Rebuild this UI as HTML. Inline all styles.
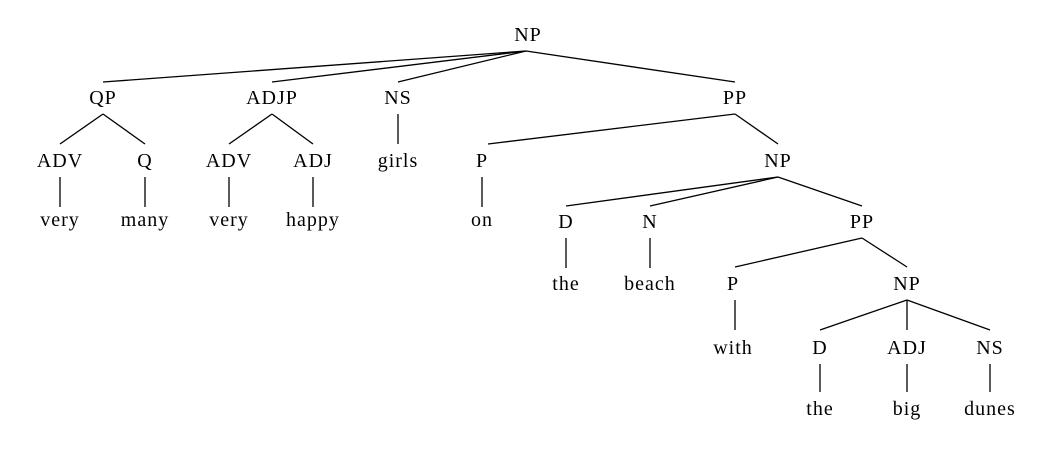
<!DOCTYPE html>
<html><head><meta charset="utf-8"><style>
html,body{margin:0;padding:0;background:#fff;width:1048px;height:456px;overflow:hidden}
svg text{font-family:"Liberation Serif",serif;font-size:20px;letter-spacing:1px;fill:#000;text-anchor:middle}
line{stroke:#000;stroke-width:1.3}
</style></head><body>
<svg width="1048" height="456" viewBox="0 0 1048 456">
<g>
<text x="528" y="41">NP</text>
<text x="103" y="104">QP</text><text x="272" y="104">ADJP</text><text x="398" y="104">NS</text><text x="735" y="104">PP</text>
<text x="60" y="167">ADV</text><text x="145" y="167">Q</text><text x="229" y="167">ADV</text><text x="313" y="167">ADJ</text><text x="398" y="167">girls</text><text x="482" y="167">P</text><text x="778" y="167">NP</text>
<text x="60" y="226">very</text><text x="145" y="226">many</text><text x="229" y="226">very</text><text x="313" y="226">happy</text><text x="482" y="226">on</text><text x="566" y="228">D</text><text x="650" y="228">N</text><text x="862" y="228">PP</text>
<text x="566" y="290">the</text><text x="650" y="290">beach</text><text x="733" y="290">P</text><text x="907" y="290">NP</text>
<text x="733" y="354">with</text><text x="820" y="354">D</text><text x="907" y="354">ADJ</text><text x="990" y="354">NS</text>
<text x="820" y="415">the</text><text x="907" y="415">big</text><text x="990" y="415">dunes</text>
</g>
<g>
<line x1="526" y1="51" x2="103" y2="82"/><line x1="526" y1="51" x2="272" y2="82"/><line x1="526" y1="51" x2="398" y2="82"/><line x1="526" y1="51" x2="735" y2="82"/>
<line x1="103" y1="114" x2="60" y2="144"/><line x1="103" y1="114" x2="145" y2="144"/>
<line x1="272" y1="114" x2="229" y2="144"/><line x1="272" y1="114" x2="313" y2="144"/>
<line x1="398" y1="114" x2="398" y2="144"/>
<line x1="735" y1="114" x2="488" y2="144"/><line x1="735" y1="114" x2="778" y2="144"/>
<line x1="60" y1="177" x2="60" y2="207"/><line x1="145" y1="177" x2="145" y2="207"/><line x1="229" y1="177" x2="229" y2="207"/><line x1="313" y1="177" x2="313" y2="207"/><line x1="482" y1="177" x2="482" y2="207"/>
<line x1="778" y1="177" x2="566" y2="206"/><line x1="778" y1="177" x2="650" y2="206"/><line x1="778" y1="177" x2="862" y2="206"/>
<line x1="566" y1="238" x2="566" y2="268"/><line x1="650" y1="238" x2="650" y2="268"/>
<line x1="862" y1="238" x2="735" y2="267"/><line x1="862" y1="238" x2="907" y2="267"/>
<line x1="735" y1="300" x2="735" y2="330"/>
<line x1="907" y1="300" x2="820" y2="330"/><line x1="907" y1="300" x2="907" y2="330"/><line x1="907" y1="300" x2="990" y2="330"/>
<line x1="820" y1="364" x2="820" y2="392"/><line x1="907" y1="364" x2="907" y2="392"/><line x1="990" y1="364" x2="990" y2="392"/>
</g>
</svg>
</body></html>
